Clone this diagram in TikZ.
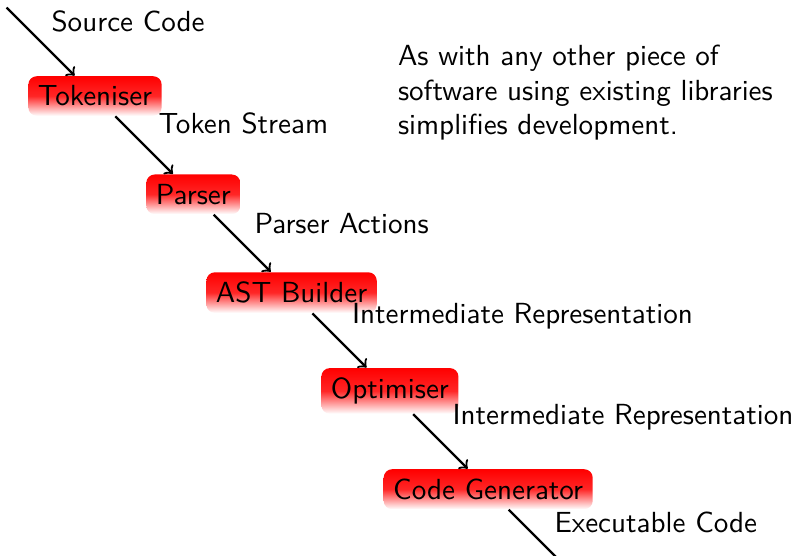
\documentclass[tikz,border=0pt]{standalone}
\usepackage{fontspec}
\begin{document}
\begin{tikzpicture}[x=0.3559pt, y=-0.3559pt,
  every node/.style={font=\fontsize{10.35}{12.3}\selectfont\sffamily},
  stage/.style={rounded corners=3pt, inner sep=3.4pt,
    top color=red, bottom color=white, middle color=red!85!white},
  flowarrow/.style={->, thick},
  lbl/.style={anchor=base west, inner sep=0pt},
  endpoint/.style={inner sep=3.33pt}]
  \useasboundingbox (0,0) rectangle (794,556);
  \clip (0,0) rectangle (794,556);

  % stages along the diagonal
  \node[endpoint] (src) at (-3.3,-2.3) {};
  \node[stage] (tok) at (95,96) {Tokeniser};
  \node[stage] (par) at (193.3,194.3) {Parser};
  \node[stage] (ast) at (291.6,292.6) {AST Builder};
  \node[stage] (opt) at (389.9,390.9) {Optimiser};
  \node[stage] (gen) at (488.2,489.2) {Code Generator};
  \node[endpoint] (out) at (586.5,587.5) {};

  % connectors
  \draw[flowarrow] (src) -- (tok);
  \draw[flowarrow] (tok) -- (par);
  \draw[flowarrow] (par) -- (ast);
  \draw[flowarrow] (ast) -- (opt);
  \draw[flowarrow] (opt) -- (gen);
  \draw[flowarrow] (gen) -- (out);

  % data passed between stages
  \node[lbl] (l0) at (51,31.7) {Source Code};
  \node[lbl] (l1) at (158,133.3) {Token Stream};
  \node[lbl] (l2) at (254,233.3) {Parser Actions};
  \node[lbl] (l3) at (351.5,323.3) {Intermediate Representation};
  \node[lbl] (l4) at (452,424.7) {Intermediate Representation};
  \node[lbl] (l5) at (554,532.7) {Executable Code};

  % side note
  \node[anchor=north west, inner sep=0pt, align=left]
    (note) at (397.5,44.5)
    {As with any other piece of\\software using existing libraries\\simplifies development.};
\end{tikzpicture}
\end{document}
